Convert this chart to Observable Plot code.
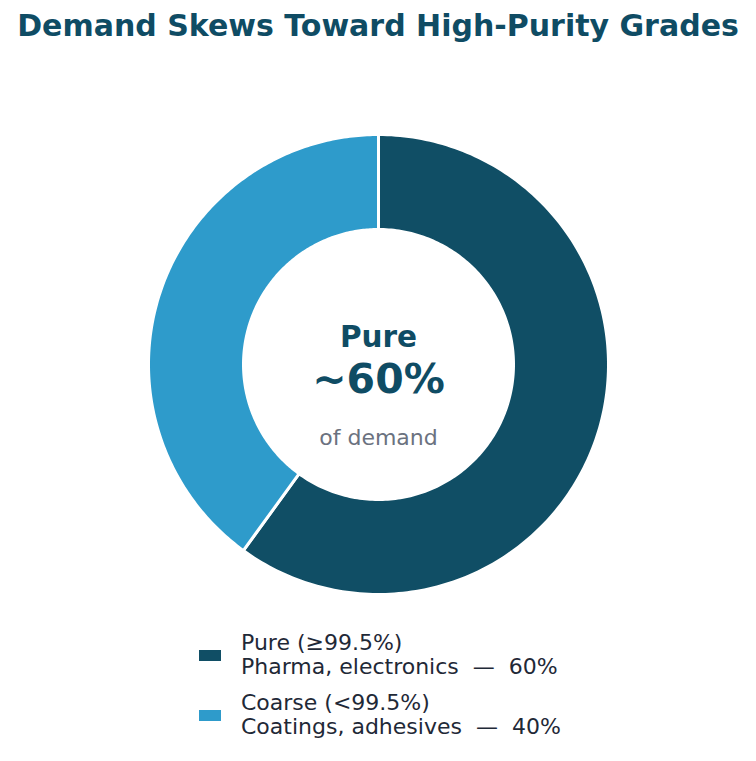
<!DOCTYPE html>
<html>
<head>
<meta charset="utf-8">
<script src="https://cdn.jsdelivr.net/npm/d3@7"></script>
<script src="https://cdn.jsdelivr.net/npm/@observablehq/plot@0.6"></script>
<style>
  html, body { margin: 0; padding: 0; background: #fff; }
  body { width: 756px; height: 761px; position: relative; font-family: "DejaVu Sans", sans-serif; overflow: hidden; }
  #title { position: absolute; left: 0; top: 8px; width: 756px; text-align: center; font-weight: bold; font-size: 30px; line-height: 36px; color: #0f4c64; white-space: nowrap; }
  #chart { position: absolute; left: 0; top: 60px; }
  #legend { position: absolute; left: 199px; top: 631px; color: #1f2937; font-size: 22px; line-height: 24px; }
  .item { display: flex; align-items: center; margin-bottom: 12px; }
  .sw { width: 22px; height: 11px; margin-right: 20px; flex: none; }
</style>
</head>
<body>
<div id="title">Demand Skews Toward High-Purity Grades</div>
<div id="chart"></div>
<div id="legend"></div>
<script>
const categories = ["Pure", "Coarse"];
const shares = [60, 40];
const colors = ["#104e65", "#2e9bcb"];
const legendTitles = ["Pure (≥99.5%)", "Coarse (<99.5%)"];
const legendUses = ["Pharma, electronics", "Coatings, adhesives"];
const centerLabel = "Pure";
const centerValue = "~60%";
const centerNote = "of demand";

const innerR = 135 / 230;
const pie = d3.pie().sort(null).value(d => d.value)(categories.map((c, i) => ({category: c, value: shares[i]})));
const pts = [];
for (const a of pie) {
  const n = 200;
  const ring = [];
  for (let k = 0; k <= n; k++) {
    const t = a.startAngle + (a.endAngle - a.startAngle) * k / n;
    ring.push({category: a.data.category, x: Math.sin(t), y: Math.cos(t)});
  }
  for (let k = n; k >= 0; k--) {
    const t = a.startAngle + (a.endAngle - a.startAngle) * k / n;
    ring.push({category: a.data.category, x: innerR * Math.sin(t), y: innerR * Math.cos(t)});
  }
  ring.push(ring[0]);
  pts.push(...ring);
}

const cy = 304;
const R = 230;
const plot = Plot.plot({
  width: 756,
  height: 560,
  margin: 0,
  x: {domain: [-1, 1], range: [378 - R, 378 + R], axis: null},
  y: {domain: [-1, 1], range: [cy + R, cy - R], axis: null},
  color: {domain: categories, range: colors},
  marks: [
    Plot.line(pts, {x: "x", y: "y", z: "category", fill: "category", stroke: "white", strokeWidth: 3, curve: "linear"}),
    Plot.text([centerLabel], {x: () => 0, y: () => 0, text: d => d, dy: -27, fontSize: 29.5, fontWeight: "bold", fill: "#0f4c64", fontFamily: "DejaVu Sans"}),
    Plot.text([centerValue], {x: () => 0, y: () => 0, text: d => d, dy: 15, fontSize: 41, fontWeight: "bold", fill: "#0f4c64", fontFamily: "DejaVu Sans"}),
    Plot.text([centerNote], {x: () => 0, y: () => 0, text: d => d, dy: 73, fontSize: 22, fill: "#6b7280", fontFamily: "DejaVu Sans"})
  ]
});
document.getElementById("chart").appendChild(plot);

const legend = document.getElementById("legend");
categories.forEach((c, i) => {
  const item = document.createElement("div");
  item.className = "item";
  const sw = document.createElement("div");
  sw.className = "sw";
  sw.style.background = colors[i];
  const txt = document.createElement("div");
  txt.innerHTML = legendTitles[i].replace("<", "&lt;") + "<br>" + legendUses[i] + "&nbsp; —&nbsp; " + shares[i] + "%";
  item.appendChild(sw);
  item.appendChild(txt);
  legend.appendChild(item);
});
</script>
</body>
</html>
